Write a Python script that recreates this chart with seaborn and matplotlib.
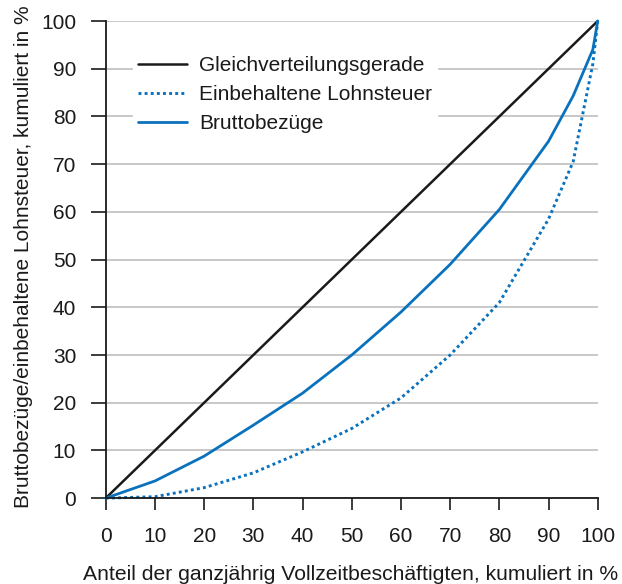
import matplotlib
matplotlib.use("Agg")
import matplotlib.pyplot as plt
import seaborn as sns
import pandas as pd

x_share = [0, 10, 20, 30, 40, 50, 60, 70, 80, 90, 95, 99, 100]
gleich = [0, 10, 20, 30, 40, 50, 60, 70, 80, 90, 95, 99, 100]
lohnsteuer = [0, 0.3, 2.2, 5.3, 9.7, 14.6, 21.0, 30.0, 41.0, 58.5, 70.5, 91.0, 100]
brutto = [0, 3.6, 8.8, 15.3, 22.0, 30.0, 39.0, 49.0, 60.5, 74.8, 84.3, 94.0, 100]
ticks = [0, 10, 20, 30, 40, 50, 60, 70, 80, 90, 100]

sns.set_theme(style="white")
plt.rcParams['font.family'] = ['Liberation Sans', 'DejaVu Sans']

FS = 15
fig = plt.figure(figsize=(6.22, 5.84), dpi=100)
ax = fig.add_axes([0.170, 0.147, 0.791, 0.817])

df = pd.DataFrame({"x": x_share, "g": gleich, "l": lohnsteuer, "b": brutto})
blue = "#0a72bd"
dark = "#1a1a1a"
sns.lineplot(data=df, x="x", y="g", ax=ax, color=dark, lw=1.8,
             label="Gleichverteilungsgerade", clip_on=False)
sns.lineplot(data=df, x="x", y="l", ax=ax, color=blue, lw=2.1,
             linestyle=(0, (1.0, 1.1)), label="Einbehaltene Lohnsteuer", clip_on=False)
sns.lineplot(data=df, x="x", y="b", ax=ax, color=blue, lw=2.0,
             label="Bruttobezüge", clip_on=False)

ax.set_xlim(0, 100)
ax.set_ylim(0, 100)
ax.set_xticks(ticks)
ax.set_yticks(ticks)
ax.tick_params(axis="both", direction="out", width=1.2, color=dark,
               labelsize=FS, labelcolor=dark, left=True, bottom=True)
ax.tick_params(axis="y", length=10.8, pad=10.5)
ax.tick_params(axis="x", length=8.6, pad=12.5)
ax.yaxis.grid(True, color="#c4c4c4", lw=1.3)
ax.xaxis.grid(False)
ax.set_axisbelow(True)
for s in ["top", "right"]:
    ax.spines[s].set_visible(False)
for s in ["left", "bottom"]:
    ax.spines[s].set_color(dark)
    ax.spines[s].set_linewidth(1.3)

ax.set_xlabel("Anteil der ganzjährig Vollzeitbeschäftigten, kumuliert in %",
              fontsize=15.2, color=dark, ha="left", va="baseline")
ax.xaxis.set_label_coords((83 - 106) / 492, (498 - 580) / 477)
ax.set_ylabel("Bruttobezüge/einbehaltene Lohnsteuer, kumuliert in %",
              fontsize=FS, color=dark, va="center", ha="center")
ax.yaxis.set_label_coords((24 - 106) / 492, (498 - 257) / 477)

leg = ax.legend(loc="upper left", bbox_to_anchor=((133 - 106) / 492, (498 - 51) / 477),
                borderaxespad=0, frameon=True, fancybox=False,
                fontsize=FS, handlelength=2.35, handletextpad=0.58,
                labelspacing=0.48, borderpad=0.25)
leg.get_frame().set_facecolor("white")
leg.get_frame().set_edgecolor("white")
leg.get_frame().set_alpha(1)
for t in leg.get_texts():
    t.set_color(dark)

fig.savefig("out.png", dpi=100)
